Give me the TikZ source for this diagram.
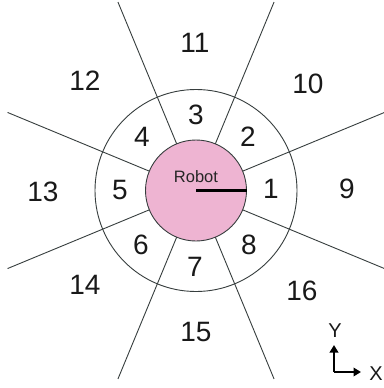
\documentclass[tikz,border=0pt]{standalone}
\usepackage{fontspec}
\setmainfont{Liberation Sans}
\usetikzlibrary{arrows.meta}
\definecolor{robotpink}{RGB}{238,180,210}
\definecolor{linegray}{RGB}{55,62,62}
\begin{document}
\begin{tikzpicture}[x=1pt,y=-1pt,
  num/.style={font=\fontsize{28}{28}\selectfont, text=black!90, inner sep=0pt},
  rob/.style={font=\fontsize{16.5}{16.5}\selectfont, text=black!85, inner sep=0pt},
  axl/.style={font=\fontsize{20}{20}\selectfont, text=black!90, inner sep=0pt},
  ray/.style={draw=linegray, line width=0.9pt},
  ring/.style={draw=linegray, line width=0.9pt},
  axis/.style={draw=black, line width=2pt, -{Triangle[length=7.5pt,width=8.5pt]}}]
\useasboundingbox (0,0) rectangle (383,388);
\fill[white] (0,0) rectangle (383,388);
\coordinate (c) at (196,190.5);
% outer ring
\draw[ring] (c) circle[radius=101];
% rays
\foreach \a in {22.5,67.5,112.5,157.5,202.5,247.5,292.5,337.5}{
  \draw[ray] ([shift={(\a:50)}]c) -- ([shift={(\a:204)}]c);
}
% robot
\node[circle, draw=linegray, line width=0.9pt, fill=robotpink, minimum size=101pt, inner sep=0pt] (robot) at (c) {};
\draw[black, line width=2.2pt] (c) -- (robot.east);
\node[rob] (rl) at (196,176.5) {Robot};
% inner sectors
\node[num] (n1) at (271,189) {1};
\node[num] (n2) at (248,137) {2};
\node[num] (n3) at (196,115) {3};
\node[num] (n4) at (142,137) {4};
\node[num] (n5) at (120,190) {5};
\node[num] (n6) at (141,245) {6};
\node[num] (n7) at (195,267) {7};
\node[num] (n8) at (249,245) {8};
% outer sectors
\node[num] (n9) at (347,189) {9};
\node[num] (n10) at (308,84) {10};
\node[num] (n11) at (195,43) {11};
\node[num] (n12) at (85,81) {12};
\node[num] (n13) at (43,192) {13};
\node[num] (n14) at (85,285) {14};
\node[num] (n15) at (196,332) {15};
\node[num] (n16) at (302,291) {16};
% axes
\coordinate (o) at (334,372);
\coordinate (yt) at (334,345);
\coordinate (xt) at (361,372);
\draw[axis] (o) -- (yt);
\draw[axis] (o) -- (xt);
\node[axl] (ly) at (335,330.5) {Y};
\node[axl] (lx) at (376,374) {X};
\end{tikzpicture}
\end{document}
